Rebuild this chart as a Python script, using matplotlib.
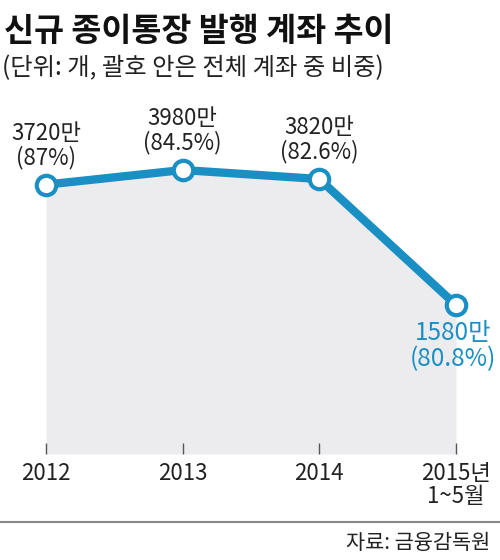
import matplotlib
matplotlib.use("Agg")
import matplotlib.pyplot as plt

years = ["2012", "2013", "2014", "2015년\n1~5월"]
accounts = [3720, 3980, 3820, 1580]
labels = ["3720만\n(87%)", "3980만\n(84.5%)", "3820만\n(82.6%)", "1580만\n(80.8%)"]

blue = "#1a8fc3"
fonts = ["Liberation Sans Narrow", "Noto Sans CJK KR", "DejaVu Sans"]
plt.rcParams["font.family"] = fonts

fig = plt.figure(figsize=(5, 5.6), dpi=100)
ax = fig.add_axes([46/500, 1-454/560, 410/500, 354/560])
x = list(range(len(years)))

ax.fill_between(x, accounts, -1070, color="#ececef", lw=0)
ax.plot(x, accounts, color=blue, lw=6, marker="o", ms=14, mfc="white",
        mec=blue, mew=3, clip_on=False, zorder=3)

for i in range(3):
    ax.annotate(labels[i], (x[i], accounts[i]), xytext=(0, 11), textcoords="offset points",
                ha="center", va="bottom", fontsize=16, color="#222222", linespacing=1.05)
ax.annotate(labels[3], (x[3], accounts[3]), xytext=(-2, -11), textcoords="offset points",
            ha="center", va="top", fontsize=17.5, color=blue, linespacing=1.0)

ax.set_xlim(0, 3)
ax.set_ylim(-1070, 5225)
ax.set_xticks(x)
ax.set_xticklabels(years, fontsize=16, color="#222222", linespacing=1.0)
ax.set_yticks([])
ax.tick_params(axis="x", direction="in", length=8, width=1, color="#555555", pad=6)
for s in ax.spines.values():
    s.set_visible(False)

fig.text(0.008, 1-32/560, "신규 종이통장 발행 계좌 추이", fontsize=23.5, fontweight="bold",
         va="center", ha="left", color="#111111", family=["Noto Sans CJK KR"])
fig.text(0.004, 1-68/560, "(단위: 개, 괄호 안은 전체 계좌 중 비중)", fontsize=17.5,
         va="center", ha="left", color="#222222", family=["Noto Sans CJK KR"])
fig.add_artist(plt.Line2D([0, 1], [1-522/560, 1-522/560], color="#888888", lw=1.5))
fig.text(0.98, 1-543/560, "자료: 금융감독원", fontsize=15, va="center", ha="right",
         color="#222222", family=["Noto Sans CJK KR"])

fig.savefig("out.png", dpi=100)
